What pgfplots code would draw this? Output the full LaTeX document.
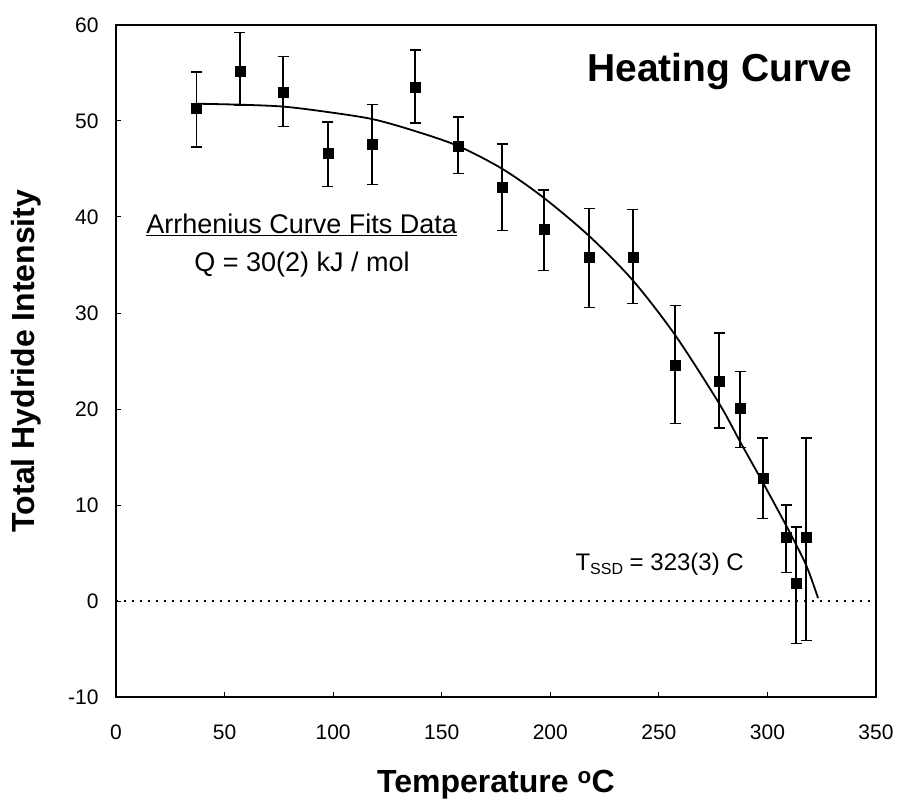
\documentclass[border=0pt]{standalone}
\usepackage{fontspec}
\setmainfont{Liberation Sans}
\usepackage{pgfplots}
\pgfplotsset{compat=1.18}
\begin{document}
\begin{tikzpicture}
\begin{axis}[
  scale only axis, width=760bp, height=672bp,
  xmin=0, xmax=350, ymin=-10, ymax=60,
  xtick={0,50,...,350}, ytick={-10,0,...,60},
  tick align=inside, xtick pos=bottom, ytick pos=left,
  major tick length=5bp,
  axis line style={line width=1.4bp},
  tick style={line width=1bp, black},
  /pgf/number format/assume math mode=true,
  tick label style={font=\fontsize{21bp}{25bp}\selectfont},
  xticklabel style={yshift=-24bp},
  yticklabel style={xshift=-14bp},
  xlabel={Temperature \textsuperscript{o}C},
  ylabel={Total Hydride Intensity},
  every axis x label/.style={at={(axis description cs:0.5,-0.1414)}, anchor=base,
     font=\bfseries\fontsize{32bp}{38bp}\selectfont},
  every axis y label/.style={at={(axis description cs:-0.1066,0.5)}, rotate=90, anchor=base,
     font=\bfseries\fontsize{32bp}{38bp}\selectfont},
  clip=false,
]
\addplot[line width=1.2bp, dash pattern=on 2bp off 6bp] coordinates {(0,0) (350,0)};
\addplot[smooth, line width=1.8bp] coordinates {
 (37,51.8) (57,51.7) (77,51.5) (97,50.95) (118,50.2) (137,49.0) (157.5,47.4)
 (178,45.0) (197,42.0) (218,38.0) (238,33.4) (257.5,27.7) (277.7,20.6)
 (287.4,16.6) (298,12.3) (309,7.7) (317.8,3.75) (323.3,0.3)
};
\addplot[only marks, mark=square*, mark size=5bp, black,
  error bars/.cd, y dir=both, y explicit,
  error bar style={line width=1.6bp, black},
  error mark options={rotate=90, line width=1.4bp, mark size=5.5bp, black}]
 coordinates {
 (37,51.3) += (0,3.8) -= (0,4.0)
 (57,55.2) += (0,4.0) -= (0,3.6)
 (77,53.0) += (0,3.7) -= (0,3.6)
 (97.5,46.6) += (0,3.3) -= (0,3.4)
 (118,47.6) += (0,4.1) -= (0,4.2)
 (137.7,53.5) += (0,3.9) -= (0,3.7)
 (157.5,47.4) += (0,3.0) -= (0,2.9)
 (177.8,43.1) += (0,4.5) -= (0,4.5)
 (197.1,38.75) += (0,4.05) -= (0,4.35)
 (217.9,35.8) += (0,5.1) -= (0,5.2)
 (238,35.8) += (0,5.0) -= (0,4.8)
 (257.5,24.6) += (0,6.2) -= (0,6.1)
 (277.7,22.9) += (0,5.0) -= (0,4.9)
 (287.4,20.1) += (0,3.8) -= (0,4.1)
 (297.9,12.8) += (0,4.2) -= (0,4.2)
 (308.6,6.6) += (0,3.4) -= (0,3.6)
 (313.2,1.9) += (0,5.8) -= (0,6.3)
 (317.8,6.6) += (0,10.4) -= (0,10.7)
};
\node[anchor=base east, font=\bfseries\fontsize{39bp}{45bp}\selectfont] at (axis cs:340.5,54.1) {Heating Curve};
\node[anchor=base, font=\fontsize{27bp}{32bp}\selectfont] at (axis cs:85.5,38.3) {\underline{Arrhenius Curve Fits Data}};
\node[anchor=base, font=\fontsize{27bp}{32bp}\selectfont] at (axis cs:85.7,34.3) {Q = 30(2) kJ / mol};
\node[anchor=base west, font=\fontsize{24bp}{28bp}\selectfont] at (axis cs:210,3.2) {T\raisebox{-0.35ex}{\fontsize{16bp}{18bp}\selectfont SSD} = 323(3) C};
\end{axis}
\pgfresetboundingbox
\path (current axis.south west) ++(-116bp,-106bp) rectangle ++(903bp,803bp);
\end{tikzpicture}
\end{document}
